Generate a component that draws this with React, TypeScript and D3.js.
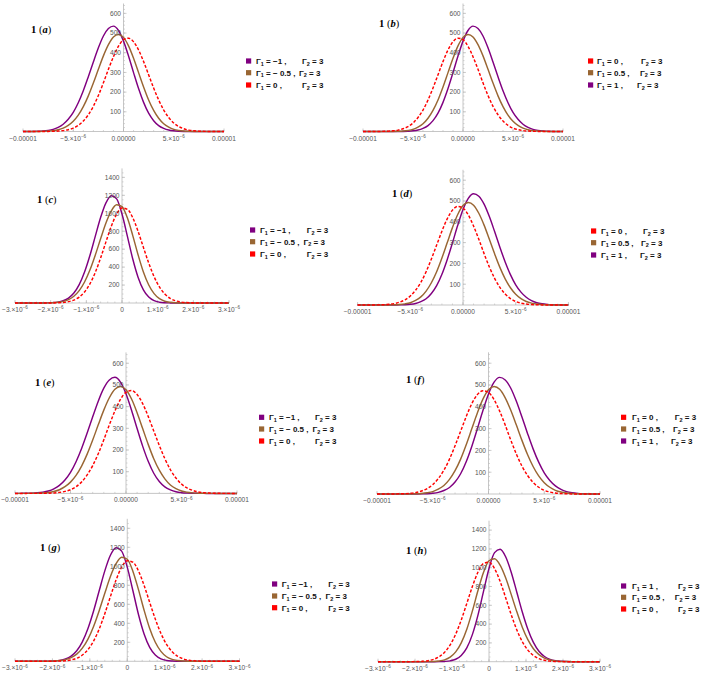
import React from 'react';
import * as d3 from 'd3';

// x grids (in units of 1e-6)
const xWide = [-10, -9.5, -9, -8.5, -8, -7.5, -7, -6.5, -6, -5.5, -5, -4.5, -4, -3.5, -3, -2.5, -2, -1.5, -1, -0.5, 0, 0.5, 1, 1.5, 2, 2.5, 3, 3.5, 4, 4.5, 5, 5.5, 6, 6.5, 7, 7.5, 8, 8.5, 9, 9.5, 10];
const xNarrow = [-3, -2.85, -2.7, -2.55, -2.4, -2.25, -2.1, -1.95, -1.8, -1.65, -1.5, -1.35, -1.2, -1.05, -0.9, -0.75, -0.6, -0.45, -0.3, -0.15, 0, 0.15, 0.3, 0.45, 0.6, 0.75, 0.9, 1.05, 1.2, 1.35, 1.5, 1.65, 1.8, 1.95, 2.1, 2.25, 2.4, 2.55, 2.7, 2.85, 3];

// panels a, e
const aPurple = [0, 0.2, 0.5, 1.2, 2.7, 5.7, 11, 21, 37, 62, 97, 146, 207, 278, 353, 425, 485, 523, 535, 513, 459, 383, 299, 218, 148, 93, 55, 30, 16, 7.5, 3.4, 1.4, 0.5, 0.2, 0, 0, 0, 0, 0, 0, 0];
const aBrown = [0, 0.1, 0.2, 0.4, 0.9, 2.1, 4.5, 9, 17, 31, 52, 83, 126, 181, 246, 316, 384, 441, 480, 493, 478, 435, 372, 299, 226, 160, 107, 67, 39, 22, 11, 5.5, 2.5, 1.1, 0.4, 0.1, 0, 0, 0, 0, 0];
const aRed = [0, 0, 0, 0.1, 0.2, 0.4, 1, 2.1, 4.6, 9.2, 17, 31, 53, 85, 128, 183, 247, 316, 380, 433, 466, 474, 456, 414, 355, 288, 221, 160, 109, 71, 43, 25, 14, 7, 3.4, 1.6, 0.7, 0.3, 0.1, 0, 0];

// panels b, d, f
const bRed = [0, 0, 0.1, 0.3, 0.7, 1.6, 3.4, 7, 14, 25, 43, 71, 109, 160, 221, 288, 355, 414, 456, 474, 466, 433, 380, 316, 247, 183, 128, 85, 53, 31, 17, 9.2, 4.6, 2.1, 1, 0.4, 0.2, 0.1, 0, 0, 0];
const bBrown = [0, 0, 0, 0, 0, 0.1, 0.4, 1.1, 2.5, 5.5, 11, 22, 39, 67, 107, 160, 226, 299, 372, 435, 478, 493, 480, 441, 384, 316, 246, 181, 126, 83, 52, 31, 17, 9, 4.5, 2.1, 0.9, 0.4, 0.2, 0.1, 0];
const bPurple = [0, 0, 0, 0, 0, 0, 0, 0.2, 0.5, 1.4, 3.4, 7.5, 16, 30, 55, 93, 148, 218, 299, 383, 459, 513, 535, 523, 485, 425, 353, 278, 207, 146, 97, 62, 37, 21, 11, 5.7, 2.7, 1.2, 0.5, 0.2, 0];

// panels c, g
const cPurple = [0, 0, 0, 0, 0, 0.4, 1.4, 4, 10, 25, 55, 111, 205, 345, 529, 742, 952, 1116, 1196, 1160, 991, 745, 493, 288, 147, 67, 26, 9, 3, 1, 0.3, 0, 0, 0, 0, 0, 0, 0, 0, 0, 0];
const cBrown = [0, 0, 0, 0, 0, 0.4, 1.2, 3, 8, 18, 38, 75, 138, 234, 367, 533, 716, 892, 1027, 1095, 1074, 949, 754, 538, 345, 200, 104, 48, 20, 8, 2.6, 0.8, 0.2, 0, 0, 0, 0, 0, 0, 0, 0];
const cRed = [0, 0, 0, 0, 0, 0.1, 0.3, 0.9, 2.4, 6, 15, 32, 66, 123, 213, 340, 501, 681, 855, 990, 1058, 1044, 951, 799, 620, 444, 294, 179, 101, 52, 25, 11, 4.6, 1.7, 0.6, 0.2, 0, 0, 0, 0, 0];

// panel h
const hPurple = [0, 0, 0, 0, 0, 0, 0, 0, 0, 0, 0.3, 1, 3, 9, 26, 67, 147, 288, 493, 745, 991, 1160, 1196, 1116, 952, 742, 529, 345, 205, 111, 55, 25, 10, 4, 1.4, 0.4, 0, 0, 0, 0, 0];
const hBrown = [0, 0, 0, 0, 0, 0, 0, 0, 0.2, 0.8, 2.6, 8, 20, 48, 104, 200, 345, 538, 754, 949, 1074, 1095, 1027, 892, 716, 533, 367, 234, 138, 75, 38, 18, 8, 3, 1.2, 0.4, 0, 0, 0, 0, 0];
const hRed = [0, 0, 0, 0, 0, 0.2, 0.6, 1.7, 4.6, 11, 25, 52, 101, 179, 294, 444, 620, 799, 951, 1044, 1058, 990, 855, 681, 501, 340, 213, 123, 66, 32, 15, 6, 2.4, 0.9, 0.3, 0.1, 0, 0, 0, 0, 0];

// ticks
const wideXTicks = [-10, -5, 0, 5, 10];
const wideXLabels = [['−0.00001', ''], ['−5.×10', '−6'], ['0.00000', ''], ['5.×10', '−6'], ['0.00001', '']];
const narrowXTicks = [-3, -2, -1, 0, 1, 2, 3];
const narrowXLabels = [['−3.×10', '−6'], ['−2.×10', '−6'], ['−1.×10', '−6'], ['0', ''], ['1.×10', '−6'], ['2.×10', '−6'], ['3.×10', '−6']];
const wideYTicks = [100, 200, 300, 400, 500, 600];
const narrowYTicks = [200, 400, 600, 800, 1000, 1200, 1400];

// legend entries
const legendNeg = ['−1 ,', '− 0.5 ,', '0 ,'];
const legendPos = ['0 ,', '0.5 ,', '1 ,'];
const legendH = ['1 ,', '0.5 ,', '0 ,'];

const PURPLE = '#800080';
const BROWN = '#996633';
const RED = '#ff0000';

type Panel = {
  id: string;
  wide: boolean;
  xr: [number, number];
  base: number;
  top: number;
  series: { v: number[]; c: string; dash?: boolean }[];
  legend: { sq: number; tx: number; rows: number[]; g2: number[]; labels: string[]; colors: string[] };
  title: [number, number];
};

const panels: Panel[] = [
  {
    id: 'a', wide: true, xr: [23, 224], base: 131.5, top: 3.5,
    series: [{ v: aPurple, c: PURPLE }, { v: aBrown, c: BROWN }, { v: aRed, c: RED, dash: true }],
    legend: { sq: 246, tx: 256, rows: [61, 72.7, 85], g2: [302, 299, 302], labels: legendNeg, colors: [PURPLE, BROWN, RED] },
    title: [31, 33],
  },
  {
    id: 'b', wide: true, xr: [363, 563], base: 131.5, top: 3.5,
    series: [{ v: bPurple, c: PURPLE }, { v: bBrown, c: BROWN }, { v: bRed, c: RED, dash: true }],
    legend: { sq: 588, tx: 597, rows: [61, 72.7, 85], g2: [641, 640, 637], labels: legendPos, colors: [RED, BROWN, PURPLE] },
    title: [379, 27],
  },
  {
    id: 'c', wide: false, xr: [15, 229], base: 303, top: 168.4,
    series: [{ v: cPurple, c: PURPLE }, { v: cBrown, c: BROWN }, { v: cRed, c: RED, dash: true }],
    legend: { sq: 250, tx: 260, rows: [230, 241.7, 254], g2: [306.7, 303.5, 306.7], labels: legendNeg, colors: [PURPLE, BROWN, RED] },
    title: [37, 203],
  },
  {
    id: 'd', wide: true, xr: [357.6, 568.4], base: 305, top: 169.8,
    series: [{ v: bPurple, c: PURPLE }, { v: bBrown, c: BROWN }, { v: bRed, c: RED, dash: true }],
    legend: { sq: 591, tx: 601, rows: [231, 242.7, 255], g2: [643, 641, 640], labels: legendPos, colors: [RED, BROWN, PURPLE] },
    title: [392, 197],
  },
  {
    id: 'e', wide: true, xr: [15, 237], base: 493.4, top: 352.4,
    series: [{ v: aPurple, c: PURPLE }, { v: aBrown, c: BROWN }, { v: aRed, c: RED, dash: true }],
    legend: { sq: 259, tx: 269, rows: [417.3, 429, 441], g2: [315, 312.5, 315], labels: legendNeg, colors: [PURPLE, BROWN, RED] },
    title: [35, 386],
  },
  {
    id: 'f', wide: true, xr: [377, 600], base: 494, top: 352.3,
    series: [{ v: bPurple, c: PURPLE }, { v: bBrown, c: BROWN }, { v: bRed, c: RED, dash: true }],
    legend: { sq: 621, tx: 632, rows: [417.3, 429, 441], g2: [674.7, 673, 671], labels: legendPos, colors: [RED, BROWN, PURPLE] },
    title: [406, 383],
  },
  {
    id: 'g', wide: false, xr: [15, 239.5], base: 661.3, top: 518.8,
    series: [{ v: cPurple, c: PURPLE }, { v: cBrown, c: BROWN }, { v: cRed, c: RED, dash: true }],
    legend: { sq: 272, tx: 281.7, rows: [584, 596, 607.7], g2: [328.3, 325.5, 328.3], labels: legendNeg, colors: [PURPLE, BROWN, RED] },
    title: [40, 551],
  },
  {
    id: 'h', wide: false, xr: [378, 600], base: 661.7, top: 520.7,
    series: [{ v: hPurple, c: PURPLE }, { v: hBrown, c: BROWN }, { v: hRed, c: RED, dash: true }],
    legend: { sq: 621, tx: 632, rows: [586, 597.3, 609], g2: [678, 674.7, 678], labels: legendH, colors: [PURPLE, BROWN, RED] },
    title: [406, 554],
  },
];

const AXIS = '#b8b8b8';
const TICK_TEXT = '#555';
const SANS = "'Liberation Sans', Arial, sans-serif";

function PlotPanel({ p }: { p: Panel }) {
  const xs = d3.scaleLinear().domain(p.wide ? [-10, 10] : [-3, 3]).range(p.xr);
  const ys = d3.scaleLinear().domain([0, p.wide ? 650 : 1500]).range([p.base, p.top]);
  const xv = p.wide ? xWide : xNarrow;
  const line = d3
    .line<number>()
    .x((_, i) => xs(xv[i]))
    .y(d => ys(d))
    .curve(d3.curveMonotoneX);

  const ax = xs(0);
  const xTicks = p.wide ? wideXTicks : narrowXTicks;
  const xLabels = p.wide ? wideXLabels : narrowXLabels;
  const yTicks = p.wide ? wideYTicks : narrowYTicks;
  const xMinor = p.wide ? d3.range(-10, 10.01, 1) : d3.range(-3, 3.01, 0.2);
  const yMinor = p.wide ? d3.range(20, 650, 20) : d3.range(50, 1500, 50);

  return (
    <g>
      {/* axes */}
      <line x1={p.xr[0]} x2={p.xr[1]} y1={p.base} y2={p.base} stroke={AXIS} strokeWidth={0.8} />
      <line x1={ax} x2={ax} y1={p.base} y2={p.top} stroke={AXIS} strokeWidth={0.8} />
      {xMinor.map((t, i) => (
        <line key={'xm' + i} x1={xs(t)} x2={xs(t)} y1={p.base} y2={p.base - 1.5} stroke={AXIS} strokeWidth={0.6} />
      ))}
      {xTicks.map((t, i) => (
        <line key={'xM' + i} x1={xs(t)} x2={xs(t)} y1={p.base} y2={p.base - 3} stroke={AXIS} strokeWidth={0.7} />
      ))}
      {yMinor.map((t, i) => (
        <line key={'ym' + i} x1={ax} x2={ax + 1.5} y1={ys(t)} y2={ys(t)} stroke={AXIS} strokeWidth={0.6} />
      ))}
      {yTicks.map((t, i) => (
        <line key={'yM' + i} x1={ax} x2={ax + 3} y1={ys(t)} y2={ys(t)} stroke={AXIS} strokeWidth={0.7} />
      ))}

      {/* curves */}
      {p.series.map((s, i) => (
        <path
          key={'s' + i}
          d={line(s.v) || ''}
          fill="none"
          stroke={s.c}
          strokeWidth={1.45}
          strokeDasharray={s.dash ? '3,1.8' : undefined}
        />
      ))}

      {/* tick labels */}
      {yTicks.map((t, i) => (
        <text key={'yl' + i} x={ax - 2.5} y={ys(t)} dy="0.35em" textAnchor="end" fontSize={6.6} fill={TICK_TEXT} fontFamily={SANS}>
          {t}
        </text>
      ))}
      {xTicks.map((t, i) => (
        <text key={'xl' + i} x={xs(t)} y={p.base + 9} textAnchor="middle" fontSize={6.6} fill={TICK_TEXT} fontFamily={SANS}>
          {xLabels[i][0]}
          {xLabels[i][1] && (
            <tspan fontSize={4.6} dy={-2.8}>
              {xLabels[i][1]}
            </tspan>
          )}
        </text>
      ))}

      {/* panel title */}
      <text x={p.title[0]} y={p.title[1]} fontSize={10.5} fontFamily="'Liberation Serif', 'Times New Roman', serif" fill="#000">
        <tspan fontWeight="bold">1</tspan> (<tspan fontStyle="italic" fontWeight="bold">{p.id}</tspan>)
      </text>

      {/* legend */}
      {p.legend.rows.map((y, i) => (
        <g key={'lg' + i}>
          <rect x={p.legend.sq} y={y - 2.6} width={5.2} height={5.2} fill={p.legend.colors[i]} />
          <text x={p.legend.tx} y={y} dy="0.35em" fontSize={8} fontWeight="bold" fontFamily={SANS} fill="#111">
            Γ<tspan fontSize={5.5} dy={1.8}>1</tspan>
            <tspan dy={-1.8}>{' = ' + p.legend.labels[i]}</tspan>
          </text>
          <text x={p.legend.g2[i]} y={y} dy="0.35em" fontSize={8} fontWeight="bold" fontFamily={SANS} fill="#111">
            Γ<tspan fontSize={5.5} dy={1.8}>2</tspan>
            <tspan dy={-1.8}>{' = 3'}</tspan>
          </text>
        </g>
      ))}
    </g>
  );
}

export default function App() {
  return (
    <svg
      width={706}
      height={677}
      style={{ position: 'absolute', left: 0, top: 0, background: '#fff' }}
    >
      {panels.map(p => (
        <PlotPanel key={p.id} p={p} />
      ))}
    </svg>
  );
}
